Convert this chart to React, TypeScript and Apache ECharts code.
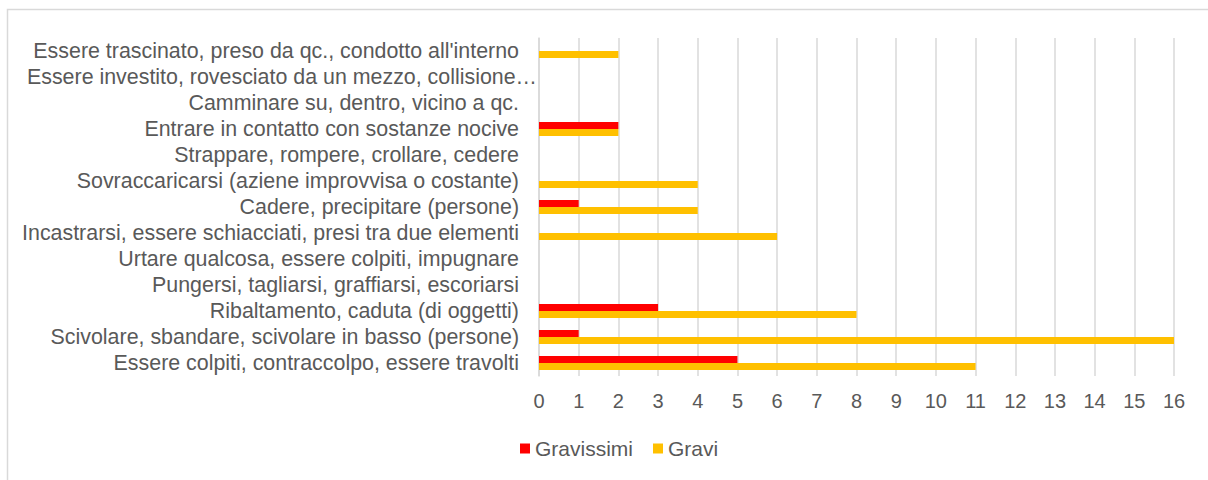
import React, { useEffect, useRef } from "react";
import * as echarts from "echarts";

// categories listed bottom to top
const categories: string[] = [
  "Essere colpiti, contraccolpo, essere travolti",
  "Scivolare, sbandare, scivolare in basso (persone)",
  "Ribaltamento, caduta (di oggetti)",
  "Pungersi, tagliarsi, graffiarsi, escoriarsi",
  "Urtare qualcosa, essere colpiti, impugnare",
  "Incastrarsi, essere schiacciati, presi tra due elementi",
  "Cadere, precipitare (persone)",
  "Sovraccaricarsi (aziene improvvisa o costante)",
  "Strappare, rompere, crollare, cedere",
  "Entrare in contatto con sostanze nocive",
  "Camminare su, dentro, vicino a qc.",
  "Essere investito, rovesciato da un mezzo, collisione…",
  "Essere trascinato, preso da qc., condotto all'interno",
];

const gravissimi: number[] = [5, 1, 3, 0, 0, 0, 1, 0, 0, 2, 0, 0, 0];
const gravi: number[] = [11, 16, 8, 0, 0, 6, 4, 4, 0, 2, 0, 0, 2];

const seriesNames = ["Gravissimi", "Gravi"];
const xTicks = { min: 0, max: 16, interval: 1 };

export default function App() {
  const ref = useRef<HTMLDivElement>(null);
  useEffect(() => {
    document.body.style.margin = "0";
    if (!ref.current) return;
    const chart = echarts.init(ref.current, undefined, { renderer: "svg" });
    const font = "'Liberation Sans', Arial, sans-serif";
    const textColor = "#595959";
    chart.setOption({
      animation: false,
      textStyle: { fontFamily: font },
      graphic: [
        {
          type: "rect",
          shape: { x: 7.5, y: 9.5, width: 1300, height: 600 },
          style: { fill: "none", stroke: "#d9d9d9", lineWidth: 1.5 },
          silent: true,
        },
      ],
      grid: { left: 539, right: 34, top: 38, bottom: 104, containLabel: false },
      legend: {
        data: seriesNames,
        bottom: 16,
        left: 515,
        icon: "rect",
        itemWidth: 10,
        itemHeight: 10,
        itemGap: 20,
        textStyle: { color: textColor, fontSize: 21, fontFamily: font },
      },
      xAxis: {
        type: "value",
        min: xTicks.min,
        max: xTicks.max,
        interval: xTicks.interval,
        axisLine: { show: false },
        axisTick: { show: false },
        axisLabel: { color: textColor, fontSize: 20, margin: 15, fontFamily: font },
        splitLine: { show: true, lineStyle: { color: "#d9d9d9", width: 1.5 } },
      },
      yAxis: {
        type: "category",
        data: categories,
        axisLine: { show: true, lineStyle: { color: "#d9d9d9", width: 1.5 } },
        axisTick: { show: false },
        axisLabel: {
          color: textColor,
          fontSize: 21.4,
          margin: 20,
          interval: 0,
          fontFamily: font,
          formatter: (v: string) => (v.endsWith("…") ? "{t|" + v + "}" : v),
          rich: {
            t: {
              color: textColor,
              fontSize: 21.4,
              fontFamily: font,
              padding: [0, -18, 0, 0],
            },
          },
        },
        splitLine: { show: false },
      },
      series: [
        {
          name: seriesNames[0],
          type: "bar",
          data: gravissimi,
          barWidth: 7,
          barGap: "0%",
          itemStyle: { color: "#ff0000" },
        },
        {
          name: seriesNames[1],
          type: "bar",
          data: gravi,
          barWidth: 7,
          barGap: "0%",
          itemStyle: { color: "#ffc000" },
        },
      ],
    });
    return () => chart.dispose();
  }, []);
  return <div ref={ref} style={{ width: 1208, height: 480 }} />;
}
